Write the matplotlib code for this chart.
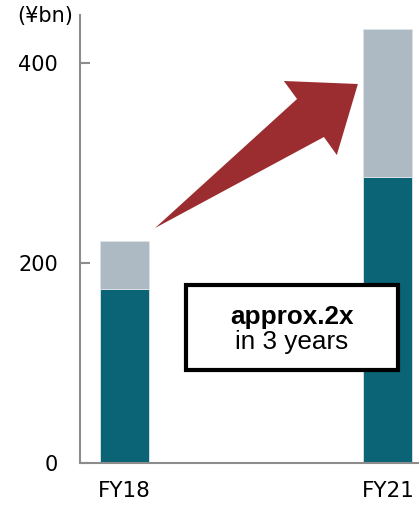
import matplotlib.pyplot as plt
from matplotlib.patches import Polygon

# data (¥bn)
years = ['FY18', 'FY21']
base = [174, 286]
upper = [48, 148]
yticks = [0, 200, 400]

teal = '#0A6475'
grey = '#ADBAC3'
arrow_red = '#9B2D30'
axis_grey = '#8C8C8C'

fig = plt.figure(figsize=(4.19, 5.05), dpi=100)
ax = fig.add_axes([80 / 419, 42 / 505, 339 / 419, 448 / 505])

xpos = [0, 1]
ax.bar(xpos, base, width=0.186, color=teal, edgecolor='#DDE4E8', linewidth=0.6)
ax.bar(xpos, upper, bottom=base, width=0.186, color=grey, edgecolor='#DDE4E8', linewidth=0.6)

ax.set_xlim(-0.169, 1.118)
ax.set_ylim(0, 448)
ax.set_yticks(yticks)
ax.set_yticklabels([str(t) for t in yticks], fontsize=15, family='DejaVu Sans')
ax.set_xticks(xpos)
ax.set_xticklabels(years, fontsize=15.5, family='DejaVu Sans')
ax.tick_params(axis='y', direction='in', length=7, width=1.5, color=axis_grey, pad=16)
ax.tick_params(axis='x', length=0, pad=13)

for s in ['top', 'right']:
    ax.spines[s].set_visible(False)
for s in ['left', 'bottom']:
    ax.spines[s].set_color(axis_grey)
    ax.spines[s].set_linewidth(1.5)

# growth arrow
arrow_pts = [(0.116, 235), (0.655, 364), (0.605, 382), (0.886, 379),
             (0.806, 308), (0.757, 326)]
ax.add_patch(Polygon(arrow_pts, closed=True, facecolor=arrow_red, edgecolor='none', zorder=3))

# annotation box
ax.add_patch(plt.Rectangle((0.232, 93), 0.805, 85, transform=ax.transData,
                           facecolor='white', edgecolor='black', linewidth=3, zorder=4))
ax.text(0.634, 146, 'approx.2x', ha='center', va='center', fontsize=18.8,
        fontweight='bold', family='Liberation Sans', zorder=5)
ax.text(0.634, 121, 'in 3 years', ha='center', va='center', fontsize=18.8,
        family='Liberation Sans', zorder=5)

fig.text(45 / 419, 1 - 16 / 505, '(¥bn)', ha='center', va='center', fontsize=15,
         family='DejaVu Sans')

fig.savefig('out.png', dpi=100)
